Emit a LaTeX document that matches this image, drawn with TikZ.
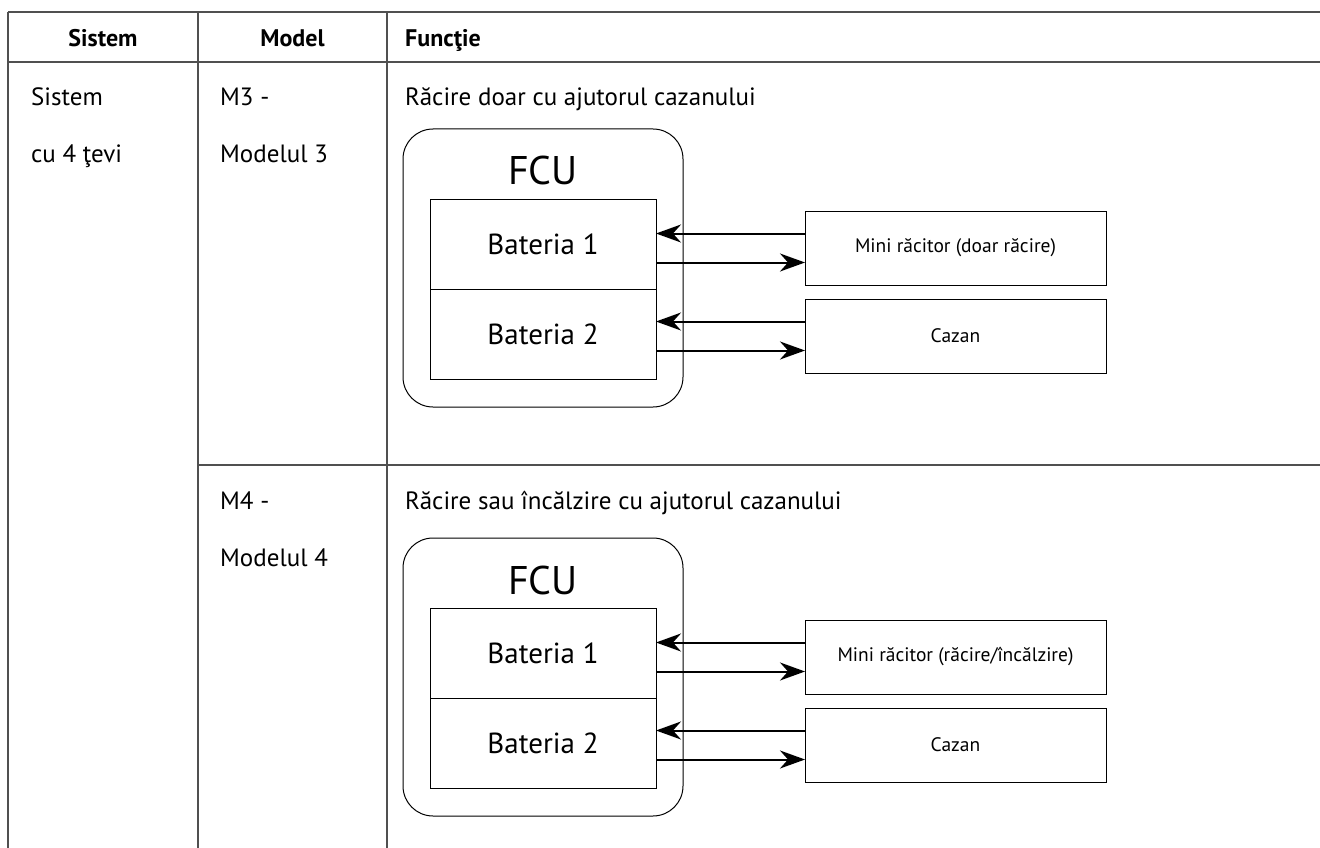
\documentclass[tikz,border=0pt]{standalone}
\usepackage{fontspec}
\setmainfont{PT Sans}
\usepackage{xcolor}
\usetikzlibrary{positioning,arrows.meta}
\definecolor{gridGray}{HTML}{505050}
\tikzstyle{gridLine}=[draw=gridGray, line width=2pt]
\tikzstyle{headText}=[font=\fontsize{24}{28}\selectfont\bfseries, inner sep=0pt, anchor=base]
\tikzstyle{cellText}=[font=\fontsize{25}{28}\selectfont, inner sep=0pt, anchor=base west]
\tikzstyle{fcuBox}=[draw, rounded corners=30pt, line width=1pt, minimum width=280pt, minimum height=278pt, outer sep=0pt]
\tikzstyle{fcuText}=[font=\fontsize{40}{42}\selectfont, inner sep=0pt]
\tikzstyle{coilBox}=[draw, line width=1pt, minimum width=226pt, minimum height=90pt, outer sep=0pt, font=\fontsize{29}{32}\selectfont]
\tikzstyle{unitBox}=[draw, line width=1pt, minimum width=301pt, minimum height=74pt, outer sep=0pt, font=\fontsize{19.5}{22}\selectfont]
\tikzstyle{pipe}=[line width=2pt, -{Stealth[length=25pt,width=18pt,inset=8pt]}]

\begin{document}
\begin{tikzpicture}[x=1pt, y=-1pt]
        \useasboundingbox (0,0) rectangle (1320,848);
        % table grid
        \draw[gridLine] (8,12) -- (1320,12);
        \draw[gridLine] (8,62) -- (1320,62);
        \draw[gridLine] (198,465) -- (1320,465);
        \draw[gridLine] (8,12) -- (8,848);
        \draw[gridLine] (198,12) -- (198,848);
        \draw[gridLine] (387,12) -- (387,848);
        % header
        \node[headText] (hSistem) at (103,47) {Sistem};
        \node[headText] (hModel) at (292.5,47) {Model};
        \node[headText, anchor=base west] (hFunctie) at (405,47) {Funcţie};
        % first column
        \node[cellText] (sistem1) at (31,106) {Sistem};
        \node[cellText] (sistem2) at (31,163) {cu 4 ţevi};
        % row M3
        \node[cellText] (m3a) at (220,106) {M3 -};
        \node[cellText] (m3b) at (220,163) {Modelul 3};
        \node[cellText] (f3) at (405,106) {Răcire doar cu ajutorul cazanului};
        \node[fcuBox] (fcuA) at (543,268) {};
        \node[fcuText] (fcuTA) at (543,171) {FCU};
        \node[coilBox] (bat1A) at (543,244) {Bateria 1};
        \node[coilBox] (bat2A) [below = 0pt of bat1A] {Bateria 2};
        \node[unitBox] (miniA) at (955.5,248) {Mini răcitor (doar răcire)};
        \node[unitBox] (cazA) [below = 14pt of miniA] {Cazan};
        \draw[pipe] ([yshift=14.5pt]miniA.west) -- ([yshift=14.5pt]miniA.west -| bat1A.east);
        \draw[pipe] ([yshift=-14.5pt]miniA.west -| bat1A.east) -- ([yshift=-14.5pt]miniA.west);
        \draw[pipe] ([yshift=14.5pt]cazA.west) -- ([yshift=14.5pt]cazA.west -| bat2A.east);
        \draw[pipe] ([yshift=-14.5pt]cazA.west -| bat2A.east) -- ([yshift=-14.5pt]cazA.west);
        % row M4
        \node[cellText] (m4a) at (220,509) {M4 -};
        \node[cellText] (m4b) at (220,566) {Modelul 4};
        \node[cellText] (f4) at (405,509) {Răcire sau încălzire cu ajutorul cazanului};
        \node[fcuBox] (fcuB) at (543,677) {};
        \node[fcuText] (fcuTB) at (543,580) {FCU};
        \node[coilBox] (bat1B) at (543,653) {Bateria 1};
        \node[coilBox] (bat2B) [below = 0pt of bat1B] {Bateria 2};
        \node[unitBox] (miniB) at (955.5,657) {Mini răcitor (răcire/încălzire)};
        \node[unitBox] (cazB) [below = 14pt of miniB] {Cazan};
        \draw[pipe] ([yshift=14.5pt]miniB.west) -- ([yshift=14.5pt]miniB.west -| bat1B.east);
        \draw[pipe] ([yshift=-14.5pt]miniB.west -| bat1B.east) -- ([yshift=-14.5pt]miniB.west);
        \draw[pipe] ([yshift=14.5pt]cazB.west) -- ([yshift=14.5pt]cazB.west -| bat2B.east);
        \draw[pipe] ([yshift=-14.5pt]cazB.west -| bat2B.east) -- ([yshift=-14.5pt]cazB.west);
      \end{tikzpicture}
\end{document}
